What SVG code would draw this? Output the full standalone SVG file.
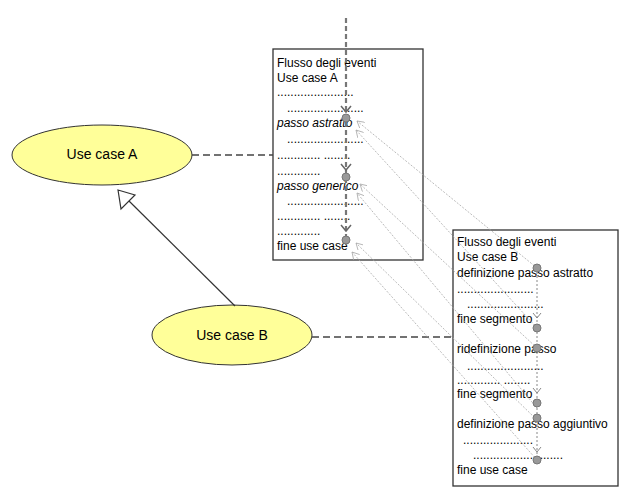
<svg xmlns="http://www.w3.org/2000/svg" width="640" height="500" viewBox="0 0 640 500">
<style>
text{font-family:"Liberation Sans",Arial,sans-serif;font-size:12px;fill:#000}
.i{font-style:italic}
.box{fill:#fff;stroke:#333;stroke-width:1.3}
.uc{fill:#ffff99;stroke:#333;stroke-width:1}
.dash{stroke:#444;stroke-width:1.3;stroke-dasharray:7,4;fill:none}
.vd{stroke:#777;stroke-width:2.2;stroke-dasharray:5,3;fill:none}
.vd2{stroke:#888;stroke-width:1;stroke-dasharray:2,2;fill:none}
.thin{stroke:#aaa;stroke-width:0.8;stroke-dasharray:2,1.5;fill:none;marker-end:url(#oa)}
.dot{fill:#999;stroke:#777}
.ch{stroke:#666;stroke-width:1.5;fill:none}
</style>
<defs>
<marker id="oa" markerWidth="8" markerHeight="8" refX="7" refY="4" orient="auto" markerUnits="userSpaceOnUse"><path d="M0,0 L7,4 L0,8" fill="none" stroke="#aaa" stroke-width="0.8"/></marker>
</defs>
<g id="ucA"><ellipse class="uc" cx="102" cy="155" rx="90" ry="30"/><text x="102" y="159" text-anchor="middle" style="font-size:14px">Use case A</text></g>
<g id="ucB"><ellipse class="uc" cx="232" cy="335" rx="80" ry="30"/><text x="232" y="340" text-anchor="middle" style="font-size:14px">Use case B</text></g>
<g id="flowA">
<rect class="box" x="273" y="49" width="150" height="211"/>
<text x="277" y="67">Flusso degli eventi</text>
<text x="277" y="82">Use case A</text>
<text x="277" y="96">.......................</text>
<text x="287" y="112">.......................</text>
<text x="277" y="127" class="i">passo astratto</text>
<text x="287" y="143">.......................</text>
<text x="277" y="159">............. ........</text>
<text x="277" y="175">.............</text>
<text x="277" y="190" class="i">passo generico</text>
<text x="287" y="205">.......................</text>
<text x="277" y="220">............. ........</text>
<text x="277" y="235">.............</text>
<text x="277" y="250">fine use case</text>
</g>
<g id="flowB">
<rect class="box" x="453" y="230" width="165" height="256"/>
<text x="457" y="246">Flusso degli eventi</text>
<text x="457" y="261">Use case B</text>
<text x="457" y="277">definizione passo astratto</text>
<text x="457" y="293">.......................</text>
<text x="467" y="308">.......................</text>
<text x="457" y="323">fine segmento</text>
<text x="457" y="353">ridefinizione passo</text>
<text x="467" y="370">.......................</text>
<text x="457" y="384">............. ........</text>
<text x="457" y="398">fine segmento</text>
<text x="457" y="428">definizione passo aggiuntivo</text>
<text x="463" y="444">.....................</text>
<text x="473" y="459">...........................</text>
<text x="457" y="474">fine use case</text>
</g>
<g id="connectors">
<line class="dash" x1="192" y1="155" x2="273" y2="155"/>
<line class="dash" x1="312" y1="337" x2="453" y2="337"/>
<line x1="235" y1="306" x2="128" y2="200" stroke="#333" stroke-width="1.2"/>
<path d="M118,190 L121,209 L135,195 Z" fill="#fff" stroke="#333" stroke-width="1.2"/>
<line class="vd" x1="346" y1="18" x2="346" y2="245"/>
<path class="ch" d="M341,106 L346,112 L351,106 M341,164 L346,170 L351,164 M341,225 L346,231 L351,225"/>
<line class="vd2" x1="537" y1="268" x2="537" y2="460"/>
<path d="M533,313 L537,318 L541,313 M533,388 L537,393 L541,388 M533,447 L537,452 L541,447" fill="none" stroke="#888"/>
<line class="thin" x1="537" y1="268" x2="357" y2="121"/>
<line class="thin" x1="537" y1="328" x2="356" y2="130"/>
<line class="thin" x1="537" y1="348" x2="360" y2="184"/>
<line class="thin" x1="537" y1="408" x2="357" y2="193"/>
<line class="thin" x1="537" y1="420" x2="356" y2="243"/>
<line class="thin" x1="537" y1="460" x2="352" y2="252"/>
<circle class="dot" cx="346" cy="118" r="4"/>
<circle class="dot" cx="346" cy="177" r="4"/>
<circle class="dot" cx="346" cy="240" r="4"/>
<circle class="dot" cx="537" cy="268" r="4"/>
<circle class="dot" cx="537" cy="328" r="4"/>
<circle class="dot" cx="537" cy="348" r="4"/>
<circle class="dot" cx="537" cy="403" r="4"/>
<circle class="dot" cx="537" cy="418" r="4"/>
<circle class="dot" cx="537" cy="460" r="4"/>
</g>
</svg>
